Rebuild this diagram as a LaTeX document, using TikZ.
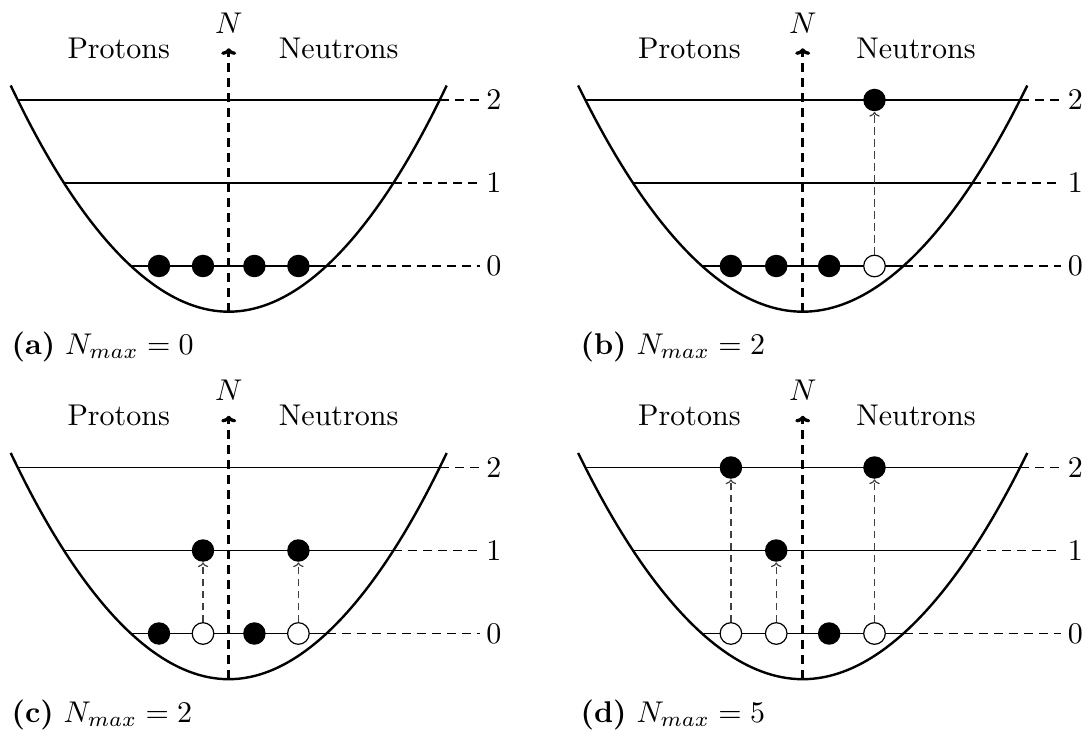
\documentclass[tikz,border=0pt]{standalone}
\usetikzlibrary{arrows.meta}
\tikzset{
  lvl/.style={line width=0.65pt},
  ext/.style={line width=0.65pt, dash pattern=on 3pt off 2pt},
  axisline/.style={line width=1.1pt, dash pattern=on 3pt off 2pt, -{To[length=2.2pt,width=5pt]}},
  well/.style={line width=0.8pt},
  full/.style={circle, fill=black, minimum size=7.5pt, inner sep=0pt},
  hole/.style={circle, draw=black, fill=white, line width=0.4pt, minimum size=7.2pt, inner sep=0pt},
  jump/.style={line width=0.4pt, dash pattern=on 2.5pt off 1.5pt, -{To[length=1.6pt,width=3.5pt]}, black!75},
  digit/.style={anchor=west, inner sep=2pt},
  captxt/.style={anchor=base west, inner sep=0pt}
}
\newcommand\basepanel[1]{%
  \coordinate (#1B) at (0,311.7);
  \coordinate (#1T) at (0,48.3);
  \coordinate (#1PL) at (-218,85.5);
  \coordinate (#1PR) at (218,85.5);
  \draw[well] (#1PL) parabola bend (#1B) (#1PR);
  \coordinate (#1L0) at (-98,266);   \coordinate (#1R0) at (98,266);   \coordinate (#1E0) at (251,266);
  \coordinate (#1L1) at (-164.4,183);\coordinate (#1R1) at (164.4,183);\coordinate (#1E1) at (251,183);
  \coordinate (#1L2) at (-210.9,100);\coordinate (#1R2) at (210.9,100);\coordinate (#1E2) at (251,100);
  \draw[lvl] (#1L0) -- (#1R0);
  \draw[lvl] (#1L1) -- (#1R1);
  \draw[lvl] (#1L2) -- (#1R2);
  \draw[ext] (#1R0) -- (#1E0);
  \draw[ext] (#1R1) -- (#1E1);
  \draw[ext] (#1R2) -- (#1E2);
  \node[digit] (#1n0) at (#1E0) {0};
  \node[digit] (#1n1) at (#1E1) {1};
  \node[digit] (#1n2) at (#1E2) {2};
  \draw[axisline] (#1B) -- (#1T);
  \node[anchor=base] (#1N) at (0,33.3) {$N$};
  \node[anchor=base] (#1P) at (-110,58.3) {Protons};
  \node[anchor=base] (#1Q) at (110,58.3) {Neutrons};
}
\begin{document}
\begin{tikzpicture}[x=0.33333pt, y=-0.33333pt]
\useasboundingbox (0,0) rectangle (1089,735);
% (a)
\begin{scope}[shift={(228.7,0)}]
  \basepanel{a}
  \node[full] (a01) at (-69.7,266) {};
  \node[full] (a02) at (-25.7,266) {};
  \node[full] (a03) at (25.7,266) {};
  \node[full] (a04) at (69.7,266) {};
\end{scope}
% (b)
\begin{scope}[shift={(802.7,0)}, xscale=1.03]
  \basepanel{b}
  \node[full] (b01) at (-69.7,266) {};
  \node[full] (b02) at (-25.7,266) {};
  \node[full] (b03) at (25.7,266) {};
  \node[hole] (b04) at (69.7,266) {};
  \node[full] (b24) at (69.7,100) {};
  \draw[jump] (b04.north) -- (b24.south);
\end{scope}
% (c)
\begin{scope}[shift={(228.7,367.5)}]
  \basepanel{c}
  \node[full] (c01) at (-69.7,266) {};
  \node[hole] (c02) at (-25.7,266) {};
  \node[full] (c03) at (25.7,266) {};
  \node[hole] (c04) at (69.7,266) {};
  \node[full] (c12) at (-25.7,183) {};
  \node[full] (c14) at (69.7,183) {};
  \draw[jump] (c02.north) -- (c12.south);
  \draw[jump] (c04.north) -- (c14.south);
\end{scope}
% (d)
\begin{scope}[shift={(802.7,367.5)}, xscale=1.03]
  \basepanel{d}
  \node[hole] (d01) at (-69.7,266) {};
  \node[hole] (d02) at (-25.7,266) {};
  \node[full] (d03) at (25.7,266) {};
  \node[hole] (d04) at (69.7,266) {};
  \node[full] (d12) at (-25.7,183) {};
  \node[full] (d21) at (-69.7,100) {};
  \node[full] (d24) at (69.7,100) {};
  \draw[jump] (d01.north) -- (d21.south);
  \draw[jump] (d02.north) -- (d12.south);
  \draw[jump] (d04.north) -- (d24.south);
\end{scope}
% captions
\node[captxt] (capa) at (11,354) {\textbf{(a)} $N_{max} = 0$};
\node[captxt] (capb) at (580,354) {\textbf{(b)} $N_{max} = 2$};
\node[captxt] (capc) at (11,722) {\textbf{(c)} $N_{max} = 2$};
\node[captxt] (capd) at (580,722) {\textbf{(d)} $N_{max} = 5$};
\end{tikzpicture}
\end{document}
